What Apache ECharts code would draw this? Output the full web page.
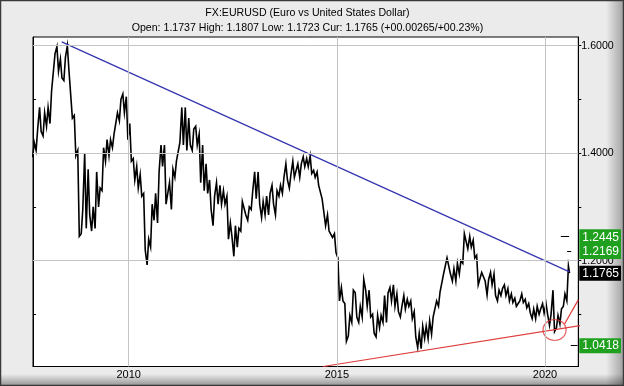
<!DOCTYPE html>
<html><head><meta charset="utf-8">
<script src="https://cdn.jsdelivr.net/npm/echarts@6/dist/echarts.min.js"></script>
<style>html,body{margin:0;padding:0;background:#ebebeb}#c{width:624px;height:386px}</style>
</head><body><div id="c"></div>
<script>
// ---- data ----
const titleLine1 = 'FX:EURUSD (Euro vs United States Dollar)';
const titleLine2 = 'Open: 1.1737 High: 1.1807 Low: 1.1723 Cur: 1.1765 (+00.00265/+00.23%)';
const xTickYears = [2010, 2015, 2020];
const yMajorTicks = [1.2, 1.4, 1.6];
const yAllTicks = [1.1, 1.2, 1.3, 1.4, 1.5, 1.6];
const levelValues = [1.2445, 1.2169, 1.1765, 1.0418];
const levelKinds = ['g', 'g', 'k', 'g'];
const levelDashes = [[2020.38, 2020.58, 1.2445], [2020.53, 2020.63, 1.2169], [2020.62, 2020.78, 1.0418]];
const startYear = 2007, startMonth = 9; // first month of monthly arrays
const monthLow = [
  1.392, 1.405, 1.440, 1.432,
  1.450, 1.455, 1.515, 1.552, 1.540, 1.535, 1.555, 1.465, 1.395, 1.245, 1.250, 1.260,
  1.285, 1.255, 1.260, 1.300, 1.330, 1.385, 1.395, 1.410, 1.435, 1.460, 1.475, 1.425,
  1.385, 1.350, 1.335, 1.320, 1.220, 1.192, 1.225, 1.275, 1.270, 1.375, 1.305, 1.305,
  1.295, 1.355, 1.385, 1.415, 1.405, 1.415, 1.405, 1.415, 1.345, 1.330, 1.325, 1.295,
  1.265, 1.305, 1.305, 1.305, 1.240, 1.245, 1.208, 1.225, 1.255, 1.285, 1.275, 1.295,
  1.315, 1.305, 1.280, 1.285, 1.285, 1.305, 1.285, 1.320, 1.325, 1.350, 1.335, 1.355,
  1.355, 1.355, 1.375, 1.375, 1.362, 1.355, 1.340, 1.315, 1.265, 1.255, 1.243, 1.215,
  1.125, 1.125, 1.050, 1.060, 1.085, 1.095, 1.085, 1.095, 1.115, 1.095, 1.065, 1.058,
  1.075, 1.085, 1.085, 1.125, 1.115, 1.105, 1.095, 1.110, 1.115, 1.092, 1.058, 1.038,
  1.036, 1.055, 1.055, 1.063, 1.092, 1.115, 1.142, 1.172, 1.175, 1.162, 1.162, 1.175,
  1.195, 1.222, 1.225, 1.205, 1.155, 1.155, 1.162, 1.136, 1.155, 1.135, 1.125, 1.135,
  1.135, 1.125, 1.122, 1.115, 1.112, 1.122, 1.112, 1.103, 1.092, 1.092, 1.100, 1.102,
  1.100, 1.080, 1.068, 1.075, 1.082, 1.115, 1.125
];
const monthHigh = [
  1.420, 1.445, 1.485, 1.475,
  1.485, 1.515, 1.585, 1.598, 1.575, 1.578, 1.600, 1.555, 1.470, 1.405, 1.295, 1.400,
  1.370, 1.300, 1.365, 1.335, 1.410, 1.425, 1.425, 1.435, 1.475, 1.500, 1.510, 1.505,
  1.455, 1.390, 1.375, 1.360, 1.325, 1.240, 1.305, 1.325, 1.365, 1.415, 1.415, 1.345,
  1.370, 1.385, 1.420, 1.485, 1.485, 1.465, 1.445, 1.450, 1.435, 1.415, 1.380, 1.350,
  1.320, 1.345, 1.340, 1.330, 1.320, 1.270, 1.265, 1.260, 1.310, 1.310, 1.300, 1.330,
  1.365, 1.365, 1.310, 1.320, 1.325, 1.340, 1.330, 1.340, 1.355, 1.380, 1.360, 1.385,
  1.380, 1.380, 1.393, 1.390, 1.395, 1.368, 1.365, 1.340, 1.315, 1.285, 1.258, 1.250,
  1.205, 1.150, 1.120, 1.098, 1.145, 1.140, 1.115, 1.165, 1.145, 1.145, 1.100, 1.098,
  1.098, 1.135, 1.140, 1.150, 1.155, 1.138, 1.115, 1.135, 1.128, 1.125, 1.105, 1.065,
  1.078, 1.078, 1.088, 1.095, 1.125, 1.142, 1.175, 1.205, 1.205, 1.185, 1.195, 1.200,
  1.250, 1.252, 1.245, 1.238, 1.210, 1.178, 1.175, 1.165, 1.178, 1.175, 1.145, 1.148,
  1.155, 1.148, 1.138, 1.130, 1.125, 1.138, 1.128, 1.120, 1.110, 1.115, 1.110, 1.120,
  1.120, 1.100, 1.145, 1.098, 1.110, 1.138, 1.190
];
const lastPrice = [2020.59, 1.1765];
const blueTrend = [[2008.39, 1.607], [2020.59, 1.179]];
const redTrend = [[2014.67, 1.003], [2021.07, 1.082]];
const redSteep = [[2020.47, 1.082], [2020.80, 1.127]];
const circleMark = [2020.23, 1.071];

// ---- build ----
const FONT = "'Liberation Sans', Arial, sans-serif";
const pricePts = [];
for (let i = 0; i < monthLow.length; i++) {
  const t = startYear + (startMonth - 1 + i) / 12;
  const mid = (monthLow[i] + monthHigh[i]) / 2;
  const nextMid = i + 1 < monthLow.length ? (monthLow[i + 1] + monthHigh[i + 1]) / 2 : lastPrice[1];
  const up = nextMid >= mid;
  pricePts.push([t + 0.3 / 12, up ? monthLow[i] : monthHigh[i]]);
  pricePts.push([t + 0.75 / 12, up ? monthHigh[i] : monthLow[i]]);
}
pricePts.push(lastPrice);

const chart = echarts.init(document.getElementById('c'), null, {renderer: 'canvas'});
const option = {
  animation: false,
  backgroundColor: '#ebebeb',
  textStyle: {fontFamily: FONT},
  graphic: [
    {type: 'rect', z: -10, shape: {x: 606, y: 0, width: 18, height: 386},
     style: {fill: new echarts.graphic.LinearGradient(0, 0, 1, 0, [{offset: 0, color: 'rgba(0,0,0,0)'}, {offset: 1, color: 'rgba(0,0,0,0.32)'}])}},
    {type: 'rect', z: -10, shape: {x: 0, y: 374, width: 624, height: 12},
     style: {fill: new echarts.graphic.LinearGradient(0, 0, 0, 1, [{offset: 0, color: 'rgba(0,0,0,0)'}, {offset: 1, color: 'rgba(0,0,0,0.38)'}])}},
    {type: 'rect', z: -9, shape: {x: 0.5, y: 0.5, width: 623, height: 385},
     style: {fill: 'none', stroke: '#3a3a3a', lineWidth: 1.5}},
    {type: 'text', x: 307.5, y: 13, style: {text: titleLine1, font: '10.6px ' + FONT, fill: '#000', textAlign: 'center', textVerticalAlign: 'middle'}},
    {type: 'text', x: 307.5, y: 28, style: {text: titleLine2, font: '10.6px ' + FONT, fill: '#000', textAlign: 'center', textVerticalAlign: 'middle'}}
  ],
  grid: {left: 33, right: 42, top: 37, bottom: 19.5, show: true, backgroundColor: '#fff', borderColor: '#000', borderWidth: 1},
  xAxis: {
    type: 'value', min: 2007.70, max: 2020.80,
    axisLine: {show: true, lineStyle: {color: '#000'}},
    axisTick: {show: false},
    splitLine: {show: false},
    axisLabel: {customValues: xTickYears, color: '#000', fontSize: 11, margin: 3, fontFamily: FONT, formatter: v => String(v)}
  },
  yAxis: [
    {type: 'value', position: 'right', min: 1.003, max: 1.616,
     axisLine: {show: true, lineStyle: {color: '#000'}},
     axisTick: {show: true, customValues: yAllTicks, length: 3, lineStyle: {color: '#000'}},
     splitLine: {show: false},
     axisLabel: {customValues: yMajorTicks, color: '#000', fontSize: 10.6, margin: 3, fontFamily: FONT, formatter: v => v.toFixed(4)}},
    {type: 'value', position: 'left', min: 1.003, max: 1.616,
     axisLine: {show: true, lineStyle: {color: '#000'}},
     axisTick: {show: true, inside: true, customValues: yAllTicks, length: 3, lineStyle: {color: '#000'}},
     splitLine: {show: false}, axisLabel: {show: false}},
    {type: 'value', position: 'right', min: 1.003, max: 1.616, z: 5,
     axisLine: {show: false}, axisTick: {show: false}, splitLine: {show: false},
     axisLabel: {customValues: levelValues, margin: 1, fontFamily: FONT,
       formatter: v => { const i = levelValues.findIndex(x => Math.abs(x - v) < 1e-6); return '{' + levelKinds[i] + '|' + v.toFixed(4) + '}'; },
       rich: {
         g: {backgroundColor: '#1fa01f', color: '#fff', fontSize: 12, padding: [2, 2, 1, 3], fontFamily: FONT},
         k: {backgroundColor: '#000', color: '#fff', fontSize: 12, padding: [2, 2, 1, 3], fontFamily: FONT}
       }}}
  ],
  series: [
    {type: 'line', name: 'grid', data: [], z: 1, silent: true,
     markLine: {silent: true, symbol: 'none', label: {show: false}, animation: false,
       lineStyle: {color: '#c4c4c4', type: 'solid', width: 1},
       data: xTickYears.map(v => ({xAxis: v})).concat(yMajorTicks.map(v => ({yAxis: v})))}},
    {type: 'line', name: 'EURUSD', data: pricePts, showSymbol: false, z: 3,
     lineStyle: {color: '#000', width: 1.6, join: 'miter'}, itemStyle: {color: '#000'}},
    {type: 'line', name: 'blue', data: blueTrend, showSymbol: false, z: 4, lineStyle: {color: '#3434b0', width: 1.2}},
    {type: 'line', name: 'red', data: redTrend, showSymbol: false, z: 4, clip: false, lineStyle: {color: '#e03c3c', width: 1.2}},
    {type: 'line', name: 'red2', data: redSteep, showSymbol: false, z: 4, lineStyle: {color: '#e03c3c', width: 1.2}},
    {type: 'scatter', name: 'circle', data: [circleMark], symbol: 'circle', symbolSize: [23, 21], z: 4, clip: false,
     itemStyle: {color: 'rgba(0,0,0,0)', borderColor: '#e03c3c', borderWidth: 1.2}},
    {type: 'line', name: 'dash', data: [], z: 4, silent: true,
     markLine: {silent: true, symbol: 'none', label: {show: false}, animation: false,
       lineStyle: {color: '#000', type: 'solid', width: 1},
       data: levelDashes.map(d => [{coord: [d[0], d[2]]}, {coord: [d[1], d[2]]}])}}
  ]
};
chart.setOption(option);
</script></body></html>
